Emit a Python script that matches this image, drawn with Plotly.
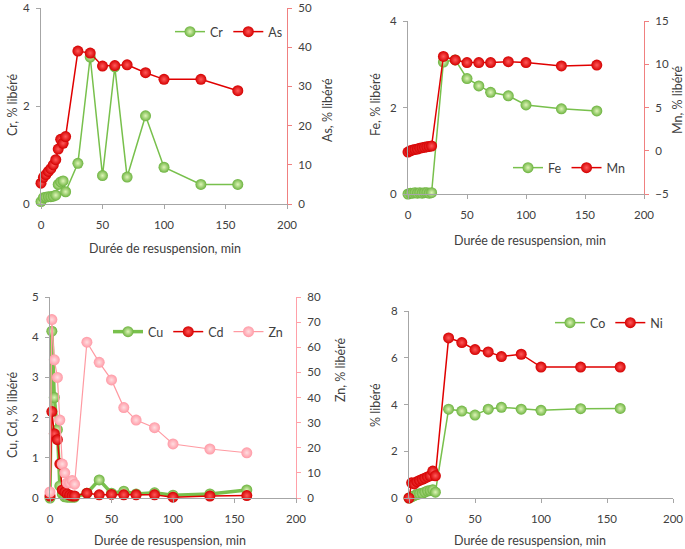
import plotly.graph_objects as go

# time points (min)
t = [0, 2, 4, 6, 8, 10, 12, 14, 16, 18, 20, 30, 40, 50, 60, 70, 85, 100, 130, 160]
t3 = [0, 1.5, 3.5, 6, 8, 10, 12, 14, 16, 18, 20, 30, 40, 50, 60, 70, 85, 100, 130, 160]

# panel 1
cr = [0.05, 0.13, 0.14, 0.15, 0.15, 0.16, 0.18, 0.4, 0.45, 0.47, 0.25, 0.83, 3.0, 0.58, 2.8, 0.55, 1.8, 0.75, 0.4, 0.4]
as_ = [5.3, 6.8, 7.5, 8.3, 9.0, 10.0, 11.3, 14.0, 16.5, 15.5, 17.2, 39.0, 38.5, 35.2, 35.3, 35.5, 33.5, 31.8, 31.8, 28.9]

# panel 2
fe = [0.0, 0.02, 0.02, 0.03, 0.02, 0.03, 0.02, 0.03, 0.03, 0.02, 0.03, 3.05, 3.1, 2.67, 2.5, 2.35, 2.27, 2.06, 1.97, 1.92]
mn = [-0.15, 0.0, 0.1, 0.15, 0.2, 0.3, 0.35, 0.4, 0.45, 0.5, 0.55, 10.9, 10.5, 10.2, 10.2, 10.2, 10.3, 10.2, 9.8, 9.9]

# panel 3
cu = [0.0, 4.15, 2.5, 1.7, 0.3, 0.1, 0.03, 0.02, 0.02, 0.02, 0.02, 0.12, 0.45, 0.12, 0.17, 0.1, 0.13, 0.07, 0.1, 0.2]
cd = [0.05, 2.15, 1.6, 1.45, 0.85, 0.2, 0.15, 0.1, 0.07, 0.05, 0.05, 0.12, 0.08, 0.09, 0.08, 0.08, 0.08, 0.02, 0.05, 0.06]
zn = [2.4, 71, 55, 48, 31, 13.5, 10, 6, 6, 7, 5.5, 62, 54, 47, 36, 31, 28, 21.5, 19.5, 18]

# panel 4
co = [0.0, 0.05, 0.1, 0.15, 0.18, 0.2, 0.25, 0.3, 0.32, 0.35, 0.25, 3.8, 3.72, 3.55, 3.8, 3.88, 3.8, 3.75, 3.82, 3.83]
ni = [0.0, 0.65, 0.6, 0.7, 0.75, 0.8, 0.85, 0.9, 0.95, 1.15, 0.95, 6.85, 6.65, 6.35, 6.25, 6.05, 6.15, 5.6, 5.6, 5.6]

W, H = 685, 549
FONT = "Lato"
GRAY = "#404040"
AXGRAY = "#a6a6a6"

GREEN = dict(line="#78c04c", edge="#6cb33f", center="#dff5b8")
RED = dict(line="#e00000", edge="#d40000", center="#ff5a5a")
PINK = dict(line="#ff9aa2", edge="#ff9aa6", center="#ffdde0")


def px_x(p):
    return p / W


def px_y(p):
    return 1 - p / H


def line(x, y, name, c, xa, ya, legend, width=1.5):
    return go.Scatter(
        x=x, y=y, name=name, mode="lines+markers", xaxis=xa, yaxis=ya, legend=legend,
        line=dict(color=c["line"], width=width),
        marker=dict(size=11, color=c["edge"], gradient=dict(type="radial", color=c["center"]),
                    line=dict(width=0)),
        cliponaxis=False,
    )


fig = go.Figure()
fig.add_trace(line(t, cr, "Cr", GREEN, "x", "y", "legend"))
fig.add_trace(line(t, as_, "As", RED, "x", "y2", "legend"))
fig.add_trace(line(t, fe, "Fe", GREEN, "x2", "y3", "legend2"))
fig.add_trace(line(t, mn, "Mn", RED, "x2", "y4", "legend2"))
fig.add_trace(line(t3, cu, "Cu", GREEN, "x3", "y5", "legend3", width=3.5))
fig.add_trace(line(t3, cd, "Cd", RED, "x3", "y5", "legend3"))
fig.add_trace(line(t3, zn, "Zn", PINK, "x3", "y6", "legend3", width=1.2))
fig.add_trace(line(t, co, "Co", GREEN, "x4", "y7", "legend4"))
fig.add_trace(line(t, ni, "Ni", RED, "x4", "y7", "legend4"))

tickfont = dict(family=FONT, size=11.5, color=GRAY)
common = dict(showline=True, linewidth=1, ticks="outside", ticklen=4, showgrid=False, zeroline=False,
              tickfont=tickfont, automargin=False, ticklabeloverflow="allow")


def xax(x0, x1, anchor):
    return dict(domain=[px_x(x0), px_x(x1)], anchor=anchor, range=[0, 200], tickvals=[0, 50, 100, 150, 200],
                linecolor=AXGRAY, tickcolor=AXGRAY, ticklabelstandoff=6, **common)


def yax(y0, y1, anchor, rng, dtick, color=AXGRAY):
    return dict(domain=[px_y(y1), px_y(y0)], anchor=anchor, range=rng, dtick=dtick,
                linecolor=color, tickcolor=color, ticklabelstandoff=4, **common)


def yax_r(over, anchor, rng, dtick, color):
    return dict(overlaying=over, anchor=anchor, side="right", range=rng, dtick=dtick,
                linecolor=color, tickcolor=color, ticklabelstandoff=4, **common)


def legend(x, y):
    return dict(x=px_x(x), y=px_y(y), xanchor="left", yanchor="middle", orientation="h",
                font=dict(family=FONT, size=12.5, color=GRAY), bgcolor="rgba(0,0,0,0)",
                itemwidth=30, tracegroupgap=0)


fig.update_layout(
    width=W, height=H, margin=dict(l=0, r=0, t=0, b=0),
    paper_bgcolor="white", plot_bgcolor="white",
    font=dict(family=FONT, color=GRAY),
    xaxis=xax(41, 287, "y"),
    yaxis=yax(8, 204, "x", [0, 4], 2),
    yaxis2=yax_r("y", "x", [0, 50], 10, "#f08080"),
    xaxis2=xax(408, 644, "y3"),
    yaxis3=yax(21, 194, "x2", [0, 4], 2),
    yaxis4=yax_r("y3", "x2", [-5, 15], 5, "#f08080"),
    xaxis3=xax(50, 296, "y5"),
    yaxis5=yax(297, 498, "x3", [0, 5], 1),
    yaxis6=yax_r("y5", "x3", [0, 80], 10, "#ffa0a8"),
    xaxis4=xax(409, 673, "y7"),
    yaxis7=yax(311, 498, "x4", [0, 8], 2),
    legend=legend(170, 32),
    legend2=legend(508, 168),
    legend3=legend(108, 332),
    legend4=legend(550, 323),
    showlegend=True,
)

titles = [
    ("Cr, % libéré", 12, 105, -90),
    ("As, % libéré", 328, 110, -90),
    ("Durée de resuspension, min", 165, 248, 0),
    ("Fe, % libéré", 375, 105, -90),
    ("Mn, % libéré", 677, 100, -90),
    ("Durée de resuspension, min", 530, 240, 0),
    ("Cu, Cd, % libéré", 12, 415, -90),
    ("Zn, % libéré", 340, 370, -90),
    ("Durée de resuspension, min", 170, 540, 0),
    ("% libéré", 375, 405, -90),
    ("Durée de resuspension, min", 530, 540, 0),
]
for text, x, y, ang in titles:
    fig.add_annotation(text=text, x=px_x(x), y=px_y(y), xref="paper", yref="paper",
                       showarrow=False, textangle=ang, xanchor="center", yanchor="middle",
                       font=dict(family=FONT, size=12.5, color=GRAY))

# drop the default 8px page margin so the figure fills the window
fig.write_html("out.html", config={"displayModeBar": False},
               post_script="document.body.style.margin='0';")
